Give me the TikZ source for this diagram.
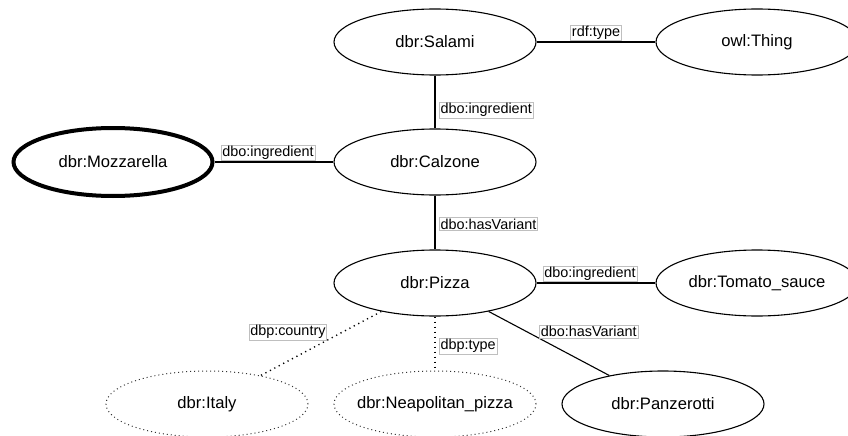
\documentclass[tikz,border=0pt]{standalone}
\usepackage{fontspec}
\setmainfont{Liberation Sans}
\usetikzlibrary{shapes.geometric,positioning}

\tikzset{
ent/.style={ellipse, draw, line width=1.1pt, minimum width=202pt, minimum height=66pt, inner sep=0pt, font=\fontsize{16.6}{19}\selectfont},
entdot/.style={ent, draw=black!80, line width=1pt, dash pattern=on 1pt off 3pt, inner xsep=-15pt},
rel/.style={solid, fill=white, draw=black!25, line width=0.6pt, inner sep=1.2pt, font=\fontsize{14.4}{16}\selectfont},
edge/.style={line width=1.1pt},
edgedot/.style={line width=1.4pt, dash pattern=on 1.2pt off 3.8pt}
}

\begin{document}
\begin{tikzpicture}[x=1pt,y=-1pt]
\useasboundingbox (0,0) rectangle (848,436);

\node (salami) at (435,42) [ent] {dbr:Salami};
\node (thing) at (757,42) [ent] {owl:Thing};
\node (calzone) at (435,162) [ent] {dbr:Calzone};
\node (mozz) at (113,162) [ent, line width=4pt, minimum width=199pt, minimum height=68pt] {dbr:Mozzarella};
\node (pizza) at (435,283) [ent] {dbr:Pizza};
\node (tomato) at (757,283) [ent] {dbr:Tomato\_sauce};
\node (italy) at (207,404) [entdot] {dbr:Italy};
\node (neap) at (435,404) [entdot] {dbr:Neapolitan\_pizza};
\node (panz) at (663,404) [ent] {dbr:Panzerotti};

\draw[edge] (salami) -- (thing) node [rel, midway, above=1pt] {rdf:type};
\draw[edge] (salami) -- (calzone) node [rel, pos=0.65, right=4pt] {dbo:ingredient};
\draw[edge] (mozz) -- (calzone) node [rel, pos=0.45, above=1pt] {dbo:ingredient};
\draw[edge] (calzone) -- (pizza) node [rel, pos=0.53, right=4pt] {dbo:hasVariant};
\draw[edge] (pizza) -- (tomato) node [rel, pos=0.45, above=1pt] {dbo:ingredient};
\draw[edge] (pizza) -- (panz) node [rel, pos=0.42, anchor=south west] {dbo:hasVariant};
\draw[edgedot] (pizza) -- (italy) node [rel, pos=0.45, anchor=south east] {dbp:country};
\draw[edgedot] (pizza) -- (neap) node [rel, pos=0.55, right=4pt] {dbp:type};
\end{tikzpicture}
\end{document}
